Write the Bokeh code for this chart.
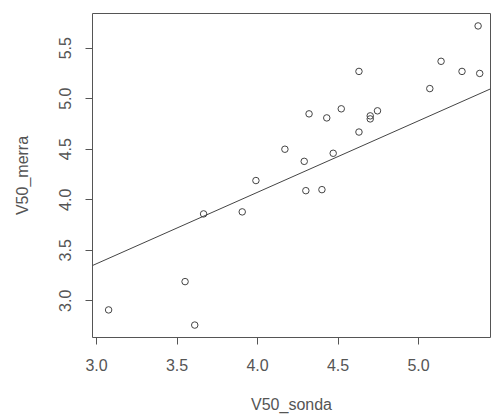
import numpy as np
from bokeh.plotting import figure
from bokeh.models import Range1d, FixedTicker, PrintfTickFormatter
from bokeh.embed import file_html
from bokeh.resources import INLINE

# data
v50_sonda = [3.075, 3.55, 3.61, 3.665, 3.905, 3.99, 4.17, 4.29, 4.32, 4.30,
             4.40, 4.43, 4.47, 4.52, 4.63, 4.63, 4.70, 4.70, 4.745, 5.07,
             5.14, 5.27, 5.37, 5.38]
v50_merra = [2.91, 3.19, 2.76, 3.86, 3.88, 4.19, 4.50, 4.38, 4.85, 4.09,
             4.10, 4.81, 4.46, 4.90, 5.27, 4.67, 4.83, 4.80, 4.88, 5.10,
             5.37, 5.27, 5.72, 5.25]
fit_intercept = 1.246
fit_slope = 0.707
x_ticks = [3.0, 3.5, 4.0, 4.5, 5.0]
y_ticks = [3.0, 3.5, 4.0, 4.5, 5.0, 5.5]

x_range = (2.975, 5.447)
y_range = (2.637, 5.843)

p = figure(width=492, height=415, output_backend="svg", toolbar_location=None,
           x_range=Range1d(*x_range), y_range=Range1d(*y_range),
           min_border_left=92, min_border_right=2, min_border_top=13,
           min_border_bottom=75)
p.grid.visible = False
p.outline_line_color = "#555555"
p.outline_line_width = 1
p.background_fill_color = "white"
p.border_fill_color = "white"

fx = np.array(x_range)
p.line(fx, fit_intercept + fit_slope * fx, line_color="#444444", line_width=1)
p.scatter(v50_sonda, v50_merra, marker="circle", size=6.5, fill_color=None,
          line_color="#444444", line_width=1)

for ax in (p.xaxis[0], p.yaxis[0]):
    ax.axis_line_color = None
    ax.major_tick_in = 0
    ax.major_tick_out = 7
    ax.minor_tick_line_color = None
    ax.major_tick_line_color = "#555555"
    ax.major_label_text_font = "Liberation Sans"
    ax.major_label_text_font_size = "16px"
    ax.major_label_text_color = "#555555"
    ax.axis_label_text_font = "Liberation Sans"
    ax.axis_label_text_font_size = "16px"
    ax.axis_label_text_font_style = "normal"
    ax.axis_label_text_color = "#555555"
    ax.formatter = PrintfTickFormatter(format="%.1f")

p.xaxis.ticker = FixedTicker(ticks=x_ticks)
p.yaxis.ticker = FixedTicker(ticks=y_ticks)
p.xaxis.axis_label = "V50_sonda"
p.yaxis.axis_label = "V50_merra"
p.yaxis.major_label_orientation = "vertical"
p.xaxis.major_label_standoff = 14
p.xaxis.axis_label_standoff = 22
p.yaxis.major_label_standoff = 14
p.yaxis.axis_label_standoff = 26

open("out.html", "w").write(file_html(p, INLINE))
